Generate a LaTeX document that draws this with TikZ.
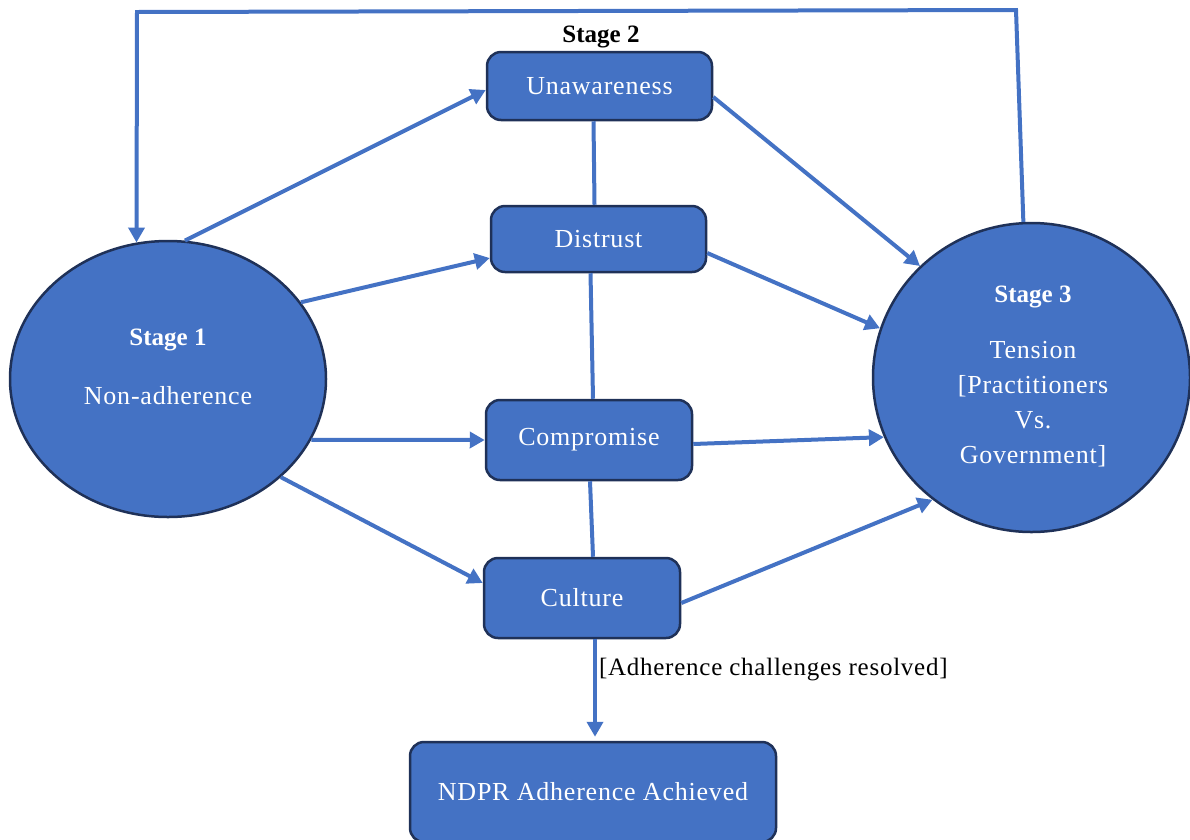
\documentclass[tikz,border=0pt]{standalone}
\usepackage{fontspec}
\setmainfont{Liberation Serif}
\newfontfamily\spacedfont{Liberation Serif}[LetterSpace=3]
\newfontfamily\labelfont{Liberation Serif}[LetterSpace=3]
\usetikzlibrary{arrows.meta,shapes.geometric}
\definecolor{boxblue}{HTML}{4472C4}
\definecolor{edgenavy}{HTML}{1F3158}
\definecolor{linkblue}{HTML}{4472C4}
\begin{document}
\begin{tikzpicture}[x=1pt,y=-1pt,
  stagebox/.style={draw=edgenavy, line width=2.5pt, fill=boxblue, rounded corners=14pt},
  stageoval/.style={ellipse, draw=edgenavy, line width=2.5pt, fill=boxblue, inner sep=0pt},
  boxtext/.style={text=white, font=\spacedfont\fontsize{26}{35}\selectfont, align=center},
  headtext/.style={text=white, font=\bfseries\fontsize{25}{30}\selectfont},
  link/.style={draw=linkblue, line width=4pt},
  arrow/.style={link, -{Triangle[length=15pt,width=16pt]}},
]
\useasboundingbox (0,0) rectangle (1190,839);

% stages 1 and 3
\node[stageoval, minimum width=316pt, minimum height=276pt] (s1) at (168,379) {};
\node[stageoval, minimum width=317pt, minimum height=309pt] (s3) at (1031.5,377.5) {};

% stage 2 factors
\node[stagebox, boxtext, minimum width=225pt, minimum height=68pt] (un) at (599.5,86) {Unawareness};
\node[stagebox, boxtext, minimum width=215pt, minimum height=66pt] (dt) at (598.5,239) {Distrust};
\node[stagebox, boxtext, minimum width=206pt, minimum height=80pt] (cp) at (589,440) {Compromise};
\node[stagebox, boxtext, minimum width=196pt, minimum height=80pt] (cu) at (582,598) {Culture};
\node[stagebox, boxtext, minimum width=366pt, minimum height=100pt] (nd) at (593,792) {NDPR Adherence Achieved};

% headings and stage texts
\node[headtext, text=black] (st2) at (601,37) {Stage 2};
\node[headtext] (st1) at (168,340) {Stage 1};
\node[boxtext] (st1b) at (168,396) {Non-adherence};
\node[headtext] (st3) at (1033,297) {Stage 3};
\node[boxtext] (st3b) at (1033,404) {Tension\\ {[}Practitioners\\ Vs.\\ Government]};

% feedback loop from stage 3 back to stage 1
\coordinate (tr) at (1016,10);
\coordinate (tl) at (137,12);
\draw[arrow] (s3.93) -- (tr) -- (tl) -- (s1.103);

% stage 1 to the factors
\draw[arrow] (s1.83) -- ([yshift=-4pt]un.west);
\draw[arrow] (s1.30) -- ([yshift=-19pt]dt.west);
\draw[arrow] (s1.-23) -- (cp.west);
\draw[arrow] (s1.-41.5) -- ([yshift=15pt]cu.west);

% the factors to stage 3
\draw[arrow] ([yshift=-11pt]un.east) -- (s3.135.5);
\draw[arrow] ([yshift=-14pt]dt.east) -- (s3.162);
\draw[arrow] ([yshift=-4pt]cp.east) -- (s3.202);
\draw[arrow] ([yshift=-5pt]cu.east) -- (s3.231);

% chain between the factors
\draw[link] ([xshift=-6pt]un.south) -- ([xshift=-4pt]dt.north);
\draw[link] ([xshift=-8pt]dt.south) -- ([xshift=4pt]cp.north);
\draw[link] ([xshift=1pt]cp.south) -- ([xshift=11pt]cu.north);

% resolution
\draw[arrow, shorten >=4pt] ([xshift=13pt]cu.south) -- ([xshift=2pt]nd.north)
  node[pos=0.3, anchor=west, inner sep=2pt, font=\labelfont\fontsize{25}{30}\selectfont] (res) {[Adherence challenges resolved]};
\end{tikzpicture}
\end{document}
